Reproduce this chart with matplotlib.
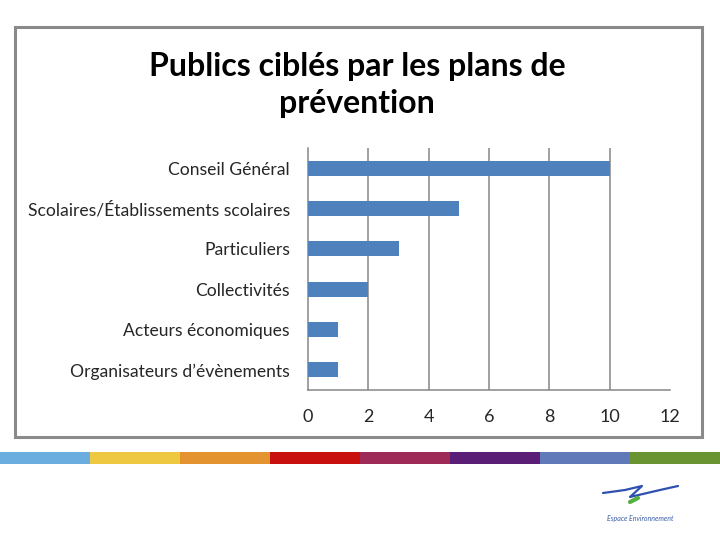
import numpy as np
import matplotlib.pyplot as plt
from matplotlib.patches import Rectangle

# Données du graphique
categories = ['Organisateurs d\u2019évènements', 'Acteurs économiques', 'Collectivités',
              'Particuliers', 'Scolaires/Établissements scolaires', 'Conseil Général']
valeurs = [1, 1, 2, 3, 5, 10]
xticks = [0, 2, 4, 6, 8, 10, 12]
titre = 'Publics ciblés par les plans de\nprévention'
bande = ['#6cade0', '#eec840', '#e39431', '#c8100f', '#9e2a58', '#5b1e77', '#6079b8', '#6a9331']

plt.rcParams['font.family'] = ['Lato', 'DejaVu Sans']
W, H = 720, 540
clr_bar = '#4f81bd'
clr_grid = '#868686'

fg = plt.figure(figsize=(7.2, 5.4), dpi=100)
fg.patch.set_facecolor('white')

# Cadre gris autour du graphique
fg.patches.append(Rectangle((15/W, 1-437/H), (702-15)/W, (437-27)/H,
                            transform=fg.transFigure, fill=False,
                            edgecolor='#8a8a8a', linewidth=2.2))

fg.text(357/W, 1-85/H, titre, ha='center', va='center', fontsize=23,
        fontweight='bold', color='black', linespacing=1.36)

ax = fg.add_axes([308/W, 1-390/H, (670-308)/W, (390-148)/H])
y = np.arange(len(categories))
ax.barh(y, valeurs, height=0.38, color=clr_bar, zorder=3)
ax.set_xlim(0, 12); ax.set_xticks(xticks)
ax.set_ylim(-0.5, len(categories)-0.5)
ax.set_yticks(y); ax.set_yticklabels(categories)
ax.xaxis.grid(True, color=clr_grid, linewidth=1.1, zorder=0)
ax.xaxis.get_gridlines()[-1].set_visible(False)
ax.xaxis.get_gridlines()[0].set_visible(False)
for s in ['top', 'right']:
    ax.spines[s].set_visible(False)
for s in ['left', 'bottom']:
    ax.spines[s].set_color(clr_grid); ax.spines[s].set_linewidth(1.1)
ax.tick_params(axis='both', length=0, colors='#262626')
ax.tick_params(axis='x', pad=14, labelsize=13)
ax.tick_params(axis='y', pad=13, labelsize=12.6)

# Bande de couleurs
axb = fg.add_axes([0, 1-464/H, 1, 12/H])
axb.bar(np.arange(len(bande)), 1, width=1.0, color=bande, align='edge')
axb.set_xlim(0, len(bande)); axb.set_ylim(0, 1)
axb.axis('off')

# Logo
axl = fg.add_axes([0, 0, 1, 1], facecolor='none')
axl.set_xlim(0, W); axl.set_ylim(H, 0); axl.axis('off')
axl.plot([603, 625, 642, 630, 660, 678], [493, 490, 486, 497, 490, 486],
         color='#2f50b0', linewidth=1.6, solid_capstyle='round')
axl.plot([630, 638], [502, 498], color='#55b040', linewidth=3, solid_capstyle='round')
axl.text(640, 518, 'Espace Environnement', ha='center', va='center',
         fontsize=5, style='italic', color='#3a5da8')

plt.show()
fg.savefig('out.png', dpi=100)
